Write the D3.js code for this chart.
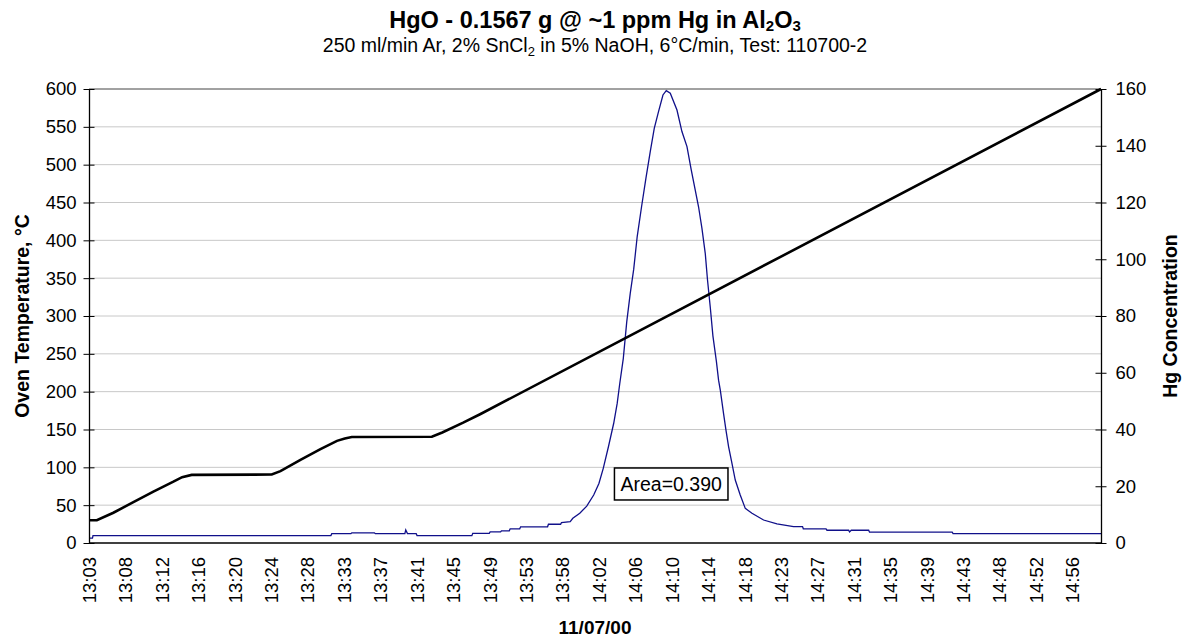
<!DOCTYPE html>
<html>
<head>
<meta charset="utf-8">
<title>HgO thermal release</title>
<script src="https://cdn.jsdelivr.net/npm/d3@7"></script>
<style>
  body { margin: 0; background: #fff; }
  text { font-family: "Liberation Sans", Arial, sans-serif; fill: #000; }
</style>
</head>
<body>
<script>

// x labels of the category axis (every ~4.2 min)
var tickLabels = ["13:03","13:08","13:12","13:16","13:20","13:24","13:28","13:33","13:37","13:41",
  "13:45","13:49","13:53","13:58","14:02","14:06","14:10","14:14","14:18","14:23",
  "14:27","14:31","14:35","14:39","14:43","14:48","14:52","14:56"];
var labelStep = 113 / 27;     // minutes between two labels
var endMinute = 116.3;        // minutes after 13:03 at the right edge

// oven temperature, [minutes after 13:03, degC]
var ovenTemp = [[0,30],[0.9,30],[2.8,40],[5.1,54],[7.4,68],[9.7,81],[10.7,87],[11.8,90],
  [21.0,90.5],[22.0,95],[24.3,110],[26.6,124],[28.5,135],[29.4,138],[30.2,140],
  [39.4,140.5],[40.6,146],[43.0,159],[45.0,170.5],[116.3,600]];

// Hg concentration, [minutes after 13:03, value]
var hgConc = [[0,1.7],[0.4,1.7],[0.46,2.6],[27.8,2.6],[27.9,3.3],[30.1,3.3],[30.2,3.6],
  [32.8,3.6],[32.9,3.3],[36.3,3.3],[36.4,4.6],[36.6,3.3],[37.6,3.3],[37.7,2.6],[44.0,2.6],
  [44.1,3.4],[46.0,3.4],[46.1,3.9],[47.3,3.9],[47.4,4.3],[48.3,4.3],[48.4,5.0],[49.5,5.0],
  [49.6,5.7],[52.7,5.7],[52.8,6.6],[54.2,6.6],[54.3,7.2],[55.3,7.5],
  [55.6,8.7],[56.4,10.5],[57.2,13],[58.0,16.9],[58.6,21],[59.1,26.3],[59.7,34],[60.3,42.2],
  [60.7,49.2],[61.0,56.3],[61.4,65],[61.8,78],[62.2,88],[62.6,96.5],[63.0,108],[63.5,118.5],
  [64.0,128.5],[64.5,137.9],[64.96,146.1],[65.45,152],[65.96,157.9],[66.34,159.4],[66.8,158.5],
  [67.57,152.6],[68.14,145],[68.72,139.7],[69.21,131.5],[69.67,124.4],[70.05,118.5],[70.44,110.9],
  [70.82,102.1],[71.08,92.7],[71.4,83],[71.7,73],[72.1,64],[72.35,57.4],[72.55,53.9],[72.92,45.7],
  [73.2,39.8],[73.5,34],[73.89,28.1],[74.27,22.2],[74.84,16.9],[75.42,12.2],[76.19,10.5],
  [77.52,8.1],[79.06,6.7],[80.97,5.8],[82.0,5.8],[82.09,5.0],[84.7,5.0],[84.81,4.5],[87.3,4.5],
  [87.4,3.9],[87.6,4.5],[89.6,4.5],[89.7,3.8],[99.2,3.8],[99.3,3.3],[116.3,3.3]];

var leftTicks = d3.range(0, 601, 50);
var rightTicks = d3.range(0, 161, 20);

var W = 1184, H = 642;
var plot = {left: 89, right: 1101, top: 89, bottom: 543};

var svg = d3.select("body").append("svg")
  .attr("width", W).attr("height", H);

var x = d3.scaleLinear().domain([0, endMinute]).range([plot.left, plot.right]);
var yT = d3.scaleLinear().domain([0, 600]).range([plot.bottom, plot.top]);
var yC = d3.scaleLinear().domain([0, 160]).range([plot.bottom, plot.top]);

// gridlines
svg.append("g").selectAll("line")
  .data(leftTicks.filter(function(d){ return d > 0 && d < 600; }))
  .enter().append("line")
  .attr("x1", plot.left).attr("x2", plot.right)
  .attr("y1", function(d){ return yT(d); }).attr("y2", function(d){ return yT(d); })
  .attr("stroke", "#c8c8c8").attr("stroke-width", 1);

// top border
svg.append("line")
  .attr("x1", plot.left).attr("x2", plot.right)
  .attr("y1", plot.top).attr("y2", plot.top)
  .attr("stroke", "#444").attr("stroke-width", 1);

// Hg line
var hgLine = d3.line()
  .x(function(d){ return x(d[0]); })
  .y(function(d){ return yC(d[1]); });
svg.append("path").datum(hgConc)
  .attr("d", hgLine)
  .attr("fill", "none").attr("stroke", "#10108a").attr("stroke-width", 1.3);

// oven temperature
var tLine = d3.line()
  .x(function(d){ return x(d[0]); })
  .y(function(d){ return yT(d[1]); });
svg.append("path").datum(ovenTemp)
  .attr("d", tLine)
  .attr("fill", "none").attr("stroke", "#000").attr("stroke-width", 2.6);

// axes
var leftAxis = svg.append("g")
  .attr("transform", "translate(" + plot.left + ",0)")
  .call(d3.axisLeft(yT).tickValues(leftTicks).tickSizeInner(5.5).tickSizeOuter(0).tickPadding(7));
var rightAxis = svg.append("g")
  .attr("transform", "translate(" + plot.right + ",0)")
  .call(d3.axisRight(yC).tickValues(rightTicks).tickSizeInner(5.5).tickSizeOuter(0).tickPadding(9));
// ticks cross the axis line
leftAxis.selectAll(".tick line").attr("x1", 5.5);
rightAxis.selectAll(".tick line").attr("x1", -5.5);

var bottomAxis = svg.append("g")
  .attr("transform", "translate(0," + plot.bottom + ")")
  .call(d3.axisBottom(x)
    .tickValues(tickLabels.map(function(d, i){ return i * labelStep; }))
    .tickFormat(function(d, i){ return tickLabels[i]; })
    .tickSize(0).tickSizeOuter(0));
bottomAxis.select(".domain").attr("d", "M" + plot.left + ",0H" + plot.right);
bottomAxis.selectAll(".tick text")
  .attr("transform", "rotate(-90)")
  .attr("text-anchor", "end")
  .attr("x", -14).attr("y", 0).attr("dy", "0.35em");

svg.selectAll(".domain").attr("stroke", "#000").attr("stroke-width", 1.3);
svg.selectAll(".tick line").attr("stroke", "#000");
svg.selectAll(".tick text")
  .style("font-family", "'Liberation Sans', Arial, sans-serif")
  .style("font-size", "18.5px").attr("fill", "#000");

// titles
var title = svg.append("text")
  .attr("x", (plot.left + plot.right) / 2).attr("y", 28)
  .attr("text-anchor", "middle")
  .style("font-size", "23.5px").style("font-weight", "bold");
title.append("tspan").text("HgO - 0.1567 g @ ~1 ppm Hg in Al");
title.append("tspan").text("2").attr("dy", 3).style("font-size", "15px");
title.append("tspan").text("O").attr("dy", -3);
title.append("tspan").text("3").attr("dy", 3).style("font-size", "15px");

var sub = svg.append("text")
  .attr("x", (plot.left + plot.right) / 2).attr("y", 52)
  .attr("text-anchor", "middle")
  .style("font-size", "19.5px");
sub.append("tspan").text("250 ml/min Ar, 2% SnCl");
sub.append("tspan").text("2").attr("dy", 4).style("font-size", "13px");
sub.append("tspan").text(" in 5% NaOH, 6°C/min, Test: 110700-2").attr("dy", -4);

svg.append("text")
  .attr("transform", "translate(29," + (plot.top + plot.bottom) / 2 + ") rotate(-90)")
  .attr("text-anchor", "middle")
  .style("font-size", "19.5px").style("font-weight", "bold")
  .text("Oven Temperature, °C");

svg.append("text")
  .attr("transform", "translate(1177," + (plot.top + plot.bottom) / 2 + ") rotate(-90)")
  .attr("text-anchor", "middle")
  .style("font-size", "19.5px").style("font-weight", "bold")
  .text("Hg Concentration");

svg.append("text")
  .attr("x", (plot.left + plot.right) / 2).attr("y", 634)
  .attr("text-anchor", "middle")
  .style("font-size", "19px").style("font-weight", "bold")
  .text("11/07/00");

// area annotation
var ann = svg.append("g")
  .attr("transform", "translate(" + x(66.9) + "," + yT(78) + ")");
var annText = ann.append("text")
  .attr("text-anchor", "middle").attr("dy", "0.35em")
  .style("font-size", "19.5px")
  .text("Area=0.390");
var bb = annText.node().getBBox();
ann.insert("rect", "text")
  .attr("x", bb.x - 6).attr("y", -16)
  .attr("width", bb.width + 12).attr("height", 32)
  .attr("fill", "#fff").attr("stroke", "#000").attr("stroke-width", 1.5);

</script>
</body>
</html>
